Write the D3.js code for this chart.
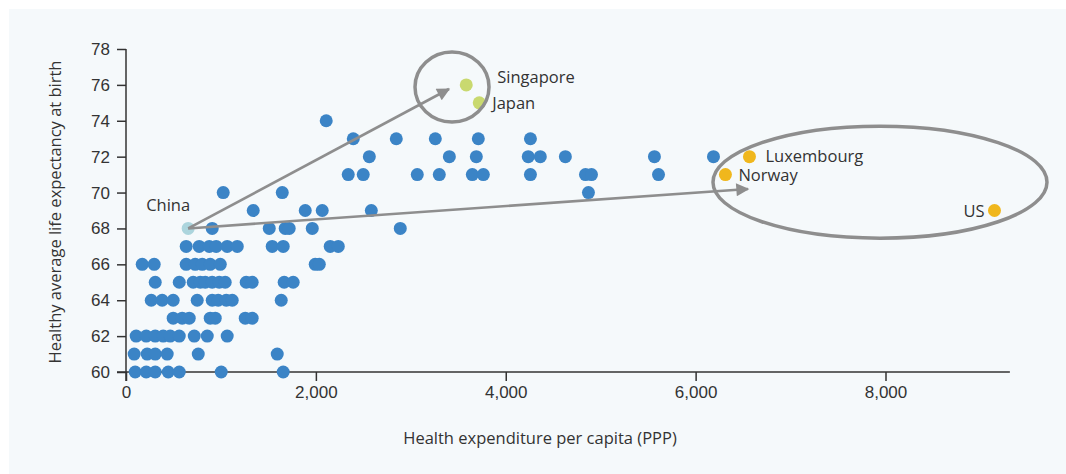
<!DOCTYPE html>
<html><head><meta charset="utf-8">
<script src="https://cdn.jsdelivr.net/npm/d3@7"></script>
<style>
html,body{margin:0;padding:0;background:#fff;}
svg{display:block;font-family:"Open Sans","Noto Sans",sans-serif;}
</style></head>
<body>
<svg id="c" width="1066" height="474"></svg>
<script>
// Other countries: health expenditure per capita (PPP) and healthy life expectancy
const spend = [
 97,213,308,445,561,1003,1656,
 86,223,308,434,761,1593,
 107,213,308,392,466,561,719,856,1066,
 497,592,666,887,940,1256,1329,
 266,381,497,750,908,971,1056,1119,1635,
 308,561,708,782,835,908,982,1045,1266,1329,1666,1761,
 171,297,634,729,803,887,993,1993,2036,
 634,771,877,950,1066,1172,1540,1656,2151,2236,
 908,1509,1677,1719,1962,2889,
 1340,1888,2067,2584,
 1024,1646,4871,
 2341,2499,3068,3300,3648,3764,4260,4840,4903,5609,
 2563,3406,3690,4237,4364,4628,5566,6188,
 2394,2847,3258,3711,4260,
 2109
];
const hale = [
 60,60,60,60,60,60,60,
 61,61,61,61,61,61,
 62,62,62,62,62,62,62,62,62,
 63,63,63,63,63,63,63,
 64,64,64,64,64,64,64,64,64,
 65,65,65,65,65,65,65,65,65,65,65,65,
 66,66,66,66,66,66,66,66,66,
 67,67,67,67,67,67,67,67,67,67,
 68,68,68,68,68,68,
 69,69,69,69,
 70,70,70,
 71,71,71,71,71,71,71,71,71,71,
 72,72,72,72,72,72,72,72,
 73,73,73,73,73,
 74
];
// Highlighted countries
const hlNames = ["China","Singapore","Japan","Luxembourg","Norway","US"];
const hlSpend = [655,3584,3721,6567,6314,9148];
const hlHale  = [68,76,75,72,71,69];
const hlGroup = ["china","asia","asia","rich","rich","rich"];
// Axis ticks
const xTicks = [0,2000,4000,6000,8000];
const yTicks = [60,62,64,66,68,70,72,74,76,78];

const svg = d3.select("#c");
svg.append("rect").attr("x",9).attr("y",9).attr("width",1057).attr("height",465).attr("fill","#f5f9fb");

const x = d3.scaleLinear().domain([0,8000]).range([126,885.5]);
const y = d3.scaleLinear().domain([60,78]).range([372,49]);
const axisCol = "#333";

// axes
const gy = svg.append("g").attr("transform","translate(126,0)")
  .call(d3.axisLeft(y).tickValues(yTicks).tickSize(9).tickSizeOuter(0));
gy.select(".domain").remove();
gy.selectAll(".tick line").attr("stroke",axisCol).attr("stroke-width",1.5);
gy.selectAll(".tick text").attr("fill","#333").attr("font-size",17).attr("x",-16);
svg.append("line").attr("x1",126).attr("x2",126).attr("y1",y(78)).attr("y2",381)
  .attr("stroke",axisCol).attr("stroke-width",1.5);

const gx = svg.append("g").attr("transform","translate(0,372)")
  .call(d3.axisBottom(x).tickValues(xTicks).tickSize(9).tickFormat(d3.format(",")));
gx.select(".domain").remove();
gx.selectAll(".tick line").attr("stroke",axisCol).attr("stroke-width",1.5);
gx.selectAll(".tick text").attr("fill","#333").attr("font-size",17).attr("y",14);
svg.append("line").attr("x1",117).attr("x2",x(9310)).attr("y1",372).attr("y2",372)
  .attr("stroke",axisCol).attr("stroke-width",1.5);

// axis titles
svg.append("text").attr("x",540).attr("y",444).attr("text-anchor","middle")
  .attr("font-size",16.5).attr("fill","#333").text("Health expenditure per capita (PPP)");
svg.append("text").attr("transform","translate(61,212) rotate(-90)").attr("text-anchor","middle")
  .attr("font-size",16.5).attr("fill","#333").text("Healthy average life expectancy at birth");

// dots
const pts = spend.map((s,i)=>({s, h:hale[i]}));
svg.append("g").selectAll("circle").data(pts).join("circle")
  .attr("cx",d=>x(d.s)).attr("cy",d=>y(d.h)).attr("r",6.5).attr("fill","#3b84c6");

const hlColor = {china:"#acd5dd", asia:"#c9d96f", rich:"#f0b71d"};
const hl = hlNames.map((n,i)=>({n, s:hlSpend[i], h:hlHale[i], g:hlGroup[i]}));
svg.append("g").selectAll("circle").data(hl).join("circle")
  .attr("cx",d=>x(d.s)).attr("cy",d=>y(d.h)).attr("r",6.5).attr("fill",d=>hlColor[d.g]);

// annotations
const grey = "#8e8e8e";
const defs = svg.append("defs");
defs.append("marker").attr("id","ah").attr("viewBox","0 0 10 10").attr("refX",9).attr("refY",5)
  .attr("markerWidth",5.5).attr("markerHeight",5).attr("markerUnits","strokeWidth").attr("orient","auto")
  .append("path").attr("d","M0,0 L10,5 L0,10 Z").attr("fill",grey);

const china = hl[0];
const arrowEnds = [[3402,75.77],[6552,70.2]];
arrowEnds.forEach(e=>{
  svg.append("line").attr("x1",x(china.s)).attr("y1",y(china.h)).attr("x2",x(e[0])).attr("y2",y(e[1]))
    .attr("stroke",grey).attr("stroke-width",2.6).attr("marker-end","url(#ah)");
});
// rings
svg.append("ellipse").attr("cx",x(3434)).attr("cy",y(75.88)).attr("rx",37).attr("ry",35)
  .attr("fill","none").attr("stroke",grey).attr("stroke-width",3.5);
svg.append("ellipse").attr("cx",x(7942)).attr("cy",y(70.58)).attr("rx",167).attr("ry",56)
  .attr("fill","none").attr("stroke",grey).attr("stroke-width",3.5);

// labels
const lab = [
  {n:"China", dx:-42, dy:-23, a:"start"},
  {n:"Singapore", dx:31, dy:-8, a:"start"},
  {n:"Japan", dx:13, dy:0, a:"start"},
  {n:"Luxembourg", dx:16, dy:0, a:"start"},
  {n:"Norway", dx:13, dy:1, a:"start"},
  {n:"US", dx:-10, dy:1, a:"end"}
];
svg.append("g").selectAll("text").data(lab).join("text")
  .attr("x",d=>{const p=hl.find(h=>h.n===d.n);return x(p.s)+d.dx;})
  .attr("y",d=>{const p=hl.find(h=>h.n===d.n);return y(p.h)+d.dy;})
  .attr("dy","0.35em").attr("text-anchor",d=>d.a).attr("font-size",16.5).attr("fill","#333")
  .text(d=>d.n);
</script>
</body></html>
